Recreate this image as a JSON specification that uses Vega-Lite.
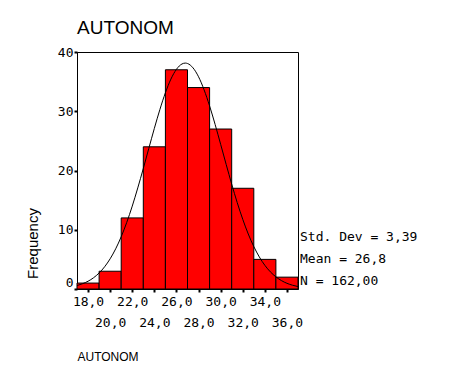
{
  "$schema": "https://vega.github.io/schema/vega-lite/v6.json",
  "width": 221,
  "height": 237,
  "autosize": {"type": "none"},
  "padding": {"left": 77, "top": 52, "right": 174, "bottom": 88},
  "background": "white",
  "title": {"text": "AUTONOM", "anchor": "start", "frame": "group", "font": "Liberation Sans", "fontSize": 19, "fontWeight": "normal", "color": "black", "offset": 8},
  "config": {
    "view": {"stroke": "black", "strokeWidth": 1},
    "axis": {"grid": false, "domainColor": "black", "tickColor": "black", "labelColor": "black", "titleColor": "black"}
  },
  "resolve": {"axis": {"x": "independent"}},
  "datasets": {
    "bins": [
      {"bin_start": 17, "bin_end": 19, "count": 1},
      {"bin_start": 19, "bin_end": 21, "count": 3},
      {"bin_start": 21, "bin_end": 23, "count": 12},
      {"bin_start": 23, "bin_end": 25, "count": 24},
      {"bin_start": 25, "bin_end": 27, "count": 37},
      {"bin_start": 27, "bin_end": 29, "count": 34},
      {"bin_start": 29, "bin_end": 31, "count": 27},
      {"bin_start": 31, "bin_end": 33, "count": 17},
      {"bin_start": 33, "bin_end": 35, "count": 5},
      {"bin_start": 35, "bin_end": 37, "count": 2}
    ],
    "curve": [
      {"x": 17, "y": 0.58}, {"x": 17.5, "y": 0.89}, {"x": 18, "y": 1.31}, {"x": 18.5, "y": 1.9},
      {"x": 19, "y": 2.7}, {"x": 19.5, "y": 3.75}, {"x": 20, "y": 5.1}, {"x": 20.5, "y": 6.78},
      {"x": 21, "y": 8.82}, {"x": 21.5, "y": 11.23}, {"x": 22, "y": 13.99}, {"x": 22.5, "y": 17.06},
      {"x": 23, "y": 20.34}, {"x": 23.5, "y": 23.74}, {"x": 24, "y": 27.11}, {"x": 24.5, "y": 30.29},
      {"x": 25, "y": 33.12}, {"x": 25.5, "y": 35.43}, {"x": 26, "y": 37.08}, {"x": 26.5, "y": 37.98},
      {"x": 26.8, "y": 38.13}, {"x": 27, "y": 38.06}, {"x": 27.5, "y": 37.32}, {"x": 28, "y": 35.82},
      {"x": 28.5, "y": 33.62}, {"x": 29, "y": 30.89}, {"x": 29.5, "y": 27.77}, {"x": 30, "y": 24.42},
      {"x": 30.5, "y": 21.02}, {"x": 31, "y": 17.7}, {"x": 31.5, "y": 14.58}, {"x": 32, "y": 11.76},
      {"x": 32.5, "y": 9.28}, {"x": 33, "y": 7.16}, {"x": 33.5, "y": 5.41}, {"x": 34, "y": 4.0},
      {"x": 34.5, "y": 2.89}, {"x": 35, "y": 2.05}, {"x": 35.5, "y": 1.42}, {"x": 36, "y": 0.96},
      {"x": 36.5, "y": 0.64}, {"x": 37, "y": 0.41}
    ],
    "stats": [
      {"label": "Std. Dev = 3,39\nMean = 26,8\nN = 162,00"}
    ]
  },
  "layer": [
    {
      "data": {"name": "bins"},
      "mark": {"type": "rect", "fill": "#FF0000", "stroke": "black", "strokeWidth": 1},
      "encoding": {
        "x": {
          "field": "bin_start", "type": "quantitative",
          "scale": {"domain": [17, 37], "nice": false, "zero": false},
          "axis": {
            "orient": "bottom",
            "values": [18, 20, 22, 24, 26, 28, 30, 32, 34, 36],
            "labelExpr": "datum.value % 4 == 0 ? '' : replace(format(datum.value, '.1f'), '.', ',')",
            "labelFont": "DejaVu Sans Mono", "labelFontSize": 13,
            "labelBaseline": "top",
            "labelPadding": 3,
            "labelOverlap": false,
            "labelBound": false,
            "tickSize": 3, "tickWidth": 2,
            "title": null
          }
        },
        "x2": {"field": "bin_end"},
        "y": {
          "field": "count", "type": "quantitative",
          "scale": {"domain": [0, 40], "nice": false},
          "axis": {
            "values": [0, 10, 20, 30, 40],
            "labelFont": "DejaVu Sans Mono", "labelFontSize": 13,
            "labelBaseline": {"condition": {"test": "datum.value == 0", "value": "bottom"}, "value": "middle"},
            "labelPadding": 1,
            "tickSize": 3, "tickWidth": 2,
            "title": "Frequency", "titleFont": "Liberation Sans", "titleFontSize": 15, "titleFontWeight": "normal",
            "titlePadding": 17, "titleY": 191
          }
        },
        "y2": {"datum": 0}
      }
    },
    {
      "data": {"name": "curve"},
      "mark": {"type": "line", "color": "black", "strokeWidth": 1, "interpolate": "monotone"},
      "encoding": {
        "x": {
          "field": "x", "type": "quantitative",
          "axis": {
            "orient": "bottom",
            "values": [20, 24, 28, 32, 36],
            "labelExpr": "replace(format(datum.value, '.1f'), '.', ',')",
            "labelFont": "DejaVu Sans Mono", "labelFontSize": 13,
            "labelBaseline": "top",
            "labelPadding": 27,
            "labelOverlap": false,
            "labelBound": false,
            "domain": false, "ticks": false, "tickSize": 0,
            "title": "AUTONOM", "titleFont": "Liberation Sans", "titleFontSize": 12, "titleFontWeight": "normal",
            "titleAnchor": "start", "titleAlign": "left", "titlePadding": 22
          }
        },
        "y": {"field": "y", "type": "quantitative"}
      }
    },
    {
      "data": {"name": "stats"},
      "mark": {"type": "text", "align": "left", "baseline": "bottom", "dx": 2, "dy": -45, "lineBreak": "\n", "lineHeight": 22, "font": "DejaVu Sans Mono", "fontSize": 13, "color": "black"},
      "encoding": {
        "x": {"datum": 37, "type": "quantitative", "axis": null},
        "y": {"datum": 0, "type": "quantitative"},
        "text": {"field": "label"}
      }
    }
  ]
}
